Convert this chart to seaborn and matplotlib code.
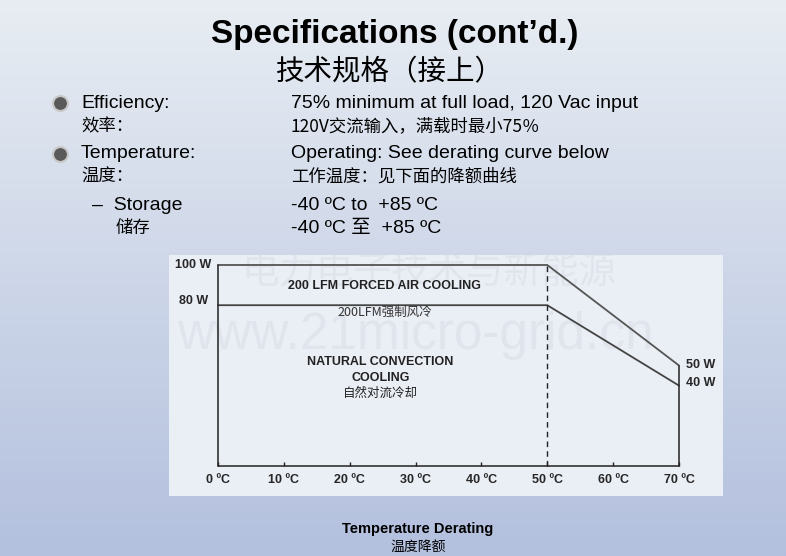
import numpy as np
import pandas as pd
import seaborn as sns
import matplotlib.pyplot as plt

# ---- Data ----
temps = [0, 50, 70]
forced_air_w = [100, 100, 50]
natural_w = [80, 80, 40]
x_ticks = [0, 10, 20, 30, 40, 50, 60, 70]
x_tick_labels = [f"{t} \u00baC" for t in x_ticks]

df = pd.DataFrame({
    'Temp': temps * 2,
    'Power': forced_air_w + natural_w,
    'Mode': ['forced'] * 3 + ['natural'] * 3,
})

# ---- Style ----
sns.set_theme(style='white')
plt.rcParams['font.family'] = ['Liberation Sans', 'Noto Sans CJK SC', 'DejaVu Sans']

W, H = 786, 556
fig = plt.figure(figsize=(W / 100, H / 100), dpi=100)

# ---- Slide background (gradient) ----
bg = fig.add_axes([0, 0, 1, 1])
top = np.array([0xe8, 0xed, 0xf3]) / 255
bot = np.array([0xb3, 0xc0, 0xde]) / 255
t = np.linspace(0, 1, 256)[:, None, None]
grad = top * (1 - t) + bot * t
grad = np.repeat(grad, 4, axis=1)
bg.imshow(grad, extent=[0, W, H, 0], aspect='auto', interpolation='bilinear')
bg.set_xlim(0, W)
bg.set_ylim(H, 0)
bg.axis('off')

txt = dict(color='black', va='center')
cjk = ['Noto Sans CJK SC', 'Liberation Sans']
lat = ['Liberation Sans', 'Noto Sans CJK SC']

bg.text(395, 34, "Specifications (cont\u2019d.)", ha='center', fontsize=24,
        fontweight='bold', family=lat, **txt)
bg.text(390, 72, "技术规格（接上）", ha='center', fontsize=20.5, family=cjk, **txt)

for yb in [103, 154]:
    bg.scatter([60], [yb], s=115, color='#5a5a5a', edgecolor='#c8c8c8', linewidth=1.5, zorder=3)

fs = 14
fc = 12.5
bg.text(81, 103, "Efficiency:", fontsize=fs, family=lat, **txt)
bg.text(81, 126, "效率：", fontsize=fc, family=cjk, **txt)
bg.text(81, 154, "Temperature:", fontsize=fs, family=lat, **txt)
bg.text(81, 177, "温度：", fontsize=fc, family=cjk, **txt)
bg.text(92, 205, "\u2013  Storage", fontsize=fs, family=lat, **txt)
bg.text(116, 228, "储存", fontsize=fc, family=cjk, **txt)

bg.text(291, 103, "75% minimum at full load, 120 Vac input", fontsize=fs, family=lat, **txt)
bg.text(291, 126, "120V交流输入，满载时最小75％", fontsize=fc, family=cjk, **txt)
bg.text(291, 154, "Operating: See derating curve below", fontsize=fs, family=lat, **txt)
bg.text(291, 177, "工作温度：见下面的降额曲线", fontsize=fc, family=cjk, **txt)
bg.text(291, 205, "-40 \u00baC to  +85 \u00baC", fontsize=fs, family=lat, **txt)
bg.text(291, 228, "-40 \u00baC 至  +85 \u00baC", fontsize=fs, family=lat, **txt)

bg.text(418, 529, "Temperature Derating", ha='center', fontsize=10.5,
        fontweight='bold', family=lat, **txt)
bg.text(418, 547, "温度降额", ha='center', fontsize=10, family=cjk, **txt)

# ---- Chart panel ----
px_left, px_right, px_top, px_bot = 169, 723, 255, 496
ax = fig.add_axes([px_left / W, 1 - px_bot / H, (px_right - px_left) / W, (px_bot - px_top) / H])
ax.set_facecolor('#eaeef5')
sx = 461 / 70      # px per degree
sy = 201 / 100     # px per watt
ax.set_xlim((px_left - 218) / sx, (px_right - 218) / sx)
ax.set_ylim(-(px_bot - 466) / sy, (466 - px_top) / sy)
for s in ax.spines.values():
    s.set_visible(False)
ax.set_xticks([])
ax.set_yticks([])

# faint watermark
ax.text(32, 96, "电力电子技术与新能源", ha='center', va='center', fontsize=27,
        color='#d6dae2', alpha=0.45, family=cjk, zorder=0)
ax.text(30, 65, "www.21micro-grid.cn", ha='center', va='center', fontsize=37,
        color='#d6dae2', alpha=0.45, family=lat, zorder=0)

sns.lineplot(data=df, x='Temp', y='Power', hue='Mode', palette={'forced': '#555555', 'natural': '#444444'},
             legend=False, ax=ax, linewidth=1.3, zorder=3)

line_kw = dict(color='#222222', linewidth=1.1, zorder=3)
ax.plot([x_ticks[0], x_ticks[-1]], [0, 0], **line_kw)
ax.plot([0, 0], [0, forced_air_w[0]], **line_kw)
ax.plot([70, 70], [0, forced_air_w[-1]], **line_kw)
ax.plot([50, 50], [0, forced_air_w[1]], color='#222222', linewidth=1.0, linestyle=(0, (4, 3)), zorder=3)
ax.vlines(x_ticks, 0, 2.2, color='#222222', linewidth=1.0, zorder=3)

for xt, lab in zip(x_ticks, x_tick_labels):
    ax.text(xt, -7.2, lab, ha='center', va='center', fontsize=9, fontweight='bold', family=lat)

ax.text(-1, 100, "100 W", ha='right', va='center', fontsize=9, fontweight='bold', family=lat)
ax.text(-1.5, 82, "80 W", ha='right', va='center', fontsize=9, fontweight='bold', family=lat)
ax.text(71, 50, "50 W", ha='left', va='center', fontsize=9, fontweight='bold', family=lat)
ax.text(71, 41.5, "40 W", ha='left', va='center', fontsize=9, fontweight='bold', family=lat)

ax.text(25.3, 89.5, "200 LFM FORCED AIR COOLING", ha='center', va='center', fontsize=9,
        fontweight='bold', color='#222222', family=lat)
ax.text(25.3, 76.5, "200LFM强制风冷", ha='center', va='center', fontsize=9,
        color='#333333', family=cjk)
ax.text(24.7, 51.5, "NATURAL CONVECTION", ha='center', va='center', fontsize=9,
        fontweight='bold', color='#222222', family=lat)
ax.text(24.7, 44, "COOLING", ha='center', va='center', fontsize=9,
        fontweight='bold', color='#222222', family=lat)
ax.text(24.7, 36, "自然对流冷却", ha='center', va='center', fontsize=9,
        color='#222222', family=cjk)

fig.savefig('out.png', dpi=100)
